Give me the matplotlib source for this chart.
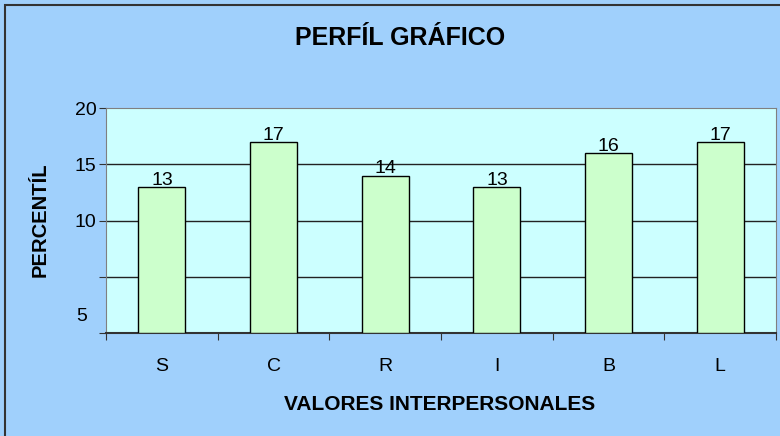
import matplotlib.pyplot as plt
from matplotlib.patches import Rectangle

plt.rcParams['font.family'] = ['Liberation Sans', 'DejaVu Sans']

categorias = ['S', 'C', 'R', 'I', 'B', 'L']
percentil = [13, 17, 14, 13, 16, 17]
yticks = [0, 5, 10, 15, 20]
ytick_labels = ['', '', '10', '15', '20']

fig = plt.figure(figsize=(7.8, 4.36), dpi=100)
fig.patch.set_facecolor('#a0d0fc')
# marco de la figura (arriba e izquierda)
fig.patches.append(Rectangle((0.007, -0.05), 1.1, 1.039, transform=fig.transFigure,
                             fill=False, edgecolor='#333333', linewidth=1.5, zorder=10))

ax = fig.add_axes([0.136, 0.236, 0.859, 0.516])
ax.set_facecolor('#ccffff')

x = range(len(categorias))
ax.bar(x, percentil, width=0.42, color='#ccffcc', edgecolor='black', linewidth=1, zorder=3)
for i, v in enumerate(percentil):
    ax.text(i, v - 0.15, str(v), ha='center', va='bottom', fontsize=14, zorder=4)

ax.set_xlim(-0.5, 5.5)
ax.set_ylim(0, 20)
ax.set_yticks(yticks)
ax.set_yticklabels(ytick_labels, fontsize=14)
# etiqueta "5" desplazada como en el original
ax.text(-0.67, 1.5, '5', ha='right', va='center', fontsize=14)
for yv in [5, 10, 15]:
    ax.axhline(yv, color='#222222', linewidth=1, zorder=1)

ax.set_xticks([i - 0.5 for i in range(len(categorias) + 1)])
ax.set_xticklabels([])
ax.set_xticks(list(x), minor=True)
ax.set_xticklabels(categorias, minor=True, fontsize=14)
ax.tick_params(axis='x', which='minor', length=0, pad=18)
ax.tick_params(axis='x', which='major', direction='out', length=5, color='#333333')
ax.tick_params(axis='y', direction='out', length=5, color='#333333', pad=2)

for s in ['top', 'right', 'left']:
    ax.spines[s].set_color('#808080')
ax.spines['bottom'].set_color('#333333')
ax.spines['bottom'].set_linewidth(1.5)

fig.text(0.513, 0.913, 'PERFÍL GRÁFICO', ha='center', va='center', fontsize=18, fontweight='bold')
fig.text(0.563, 0.073, 'VALORES INTERPERSONALES', ha='center', va='center', fontsize=15, fontweight='bold')
fig.text(0.051, 0.495, 'PERCENTÍL', ha='center', va='center', rotation=90, fontsize=14.5, fontweight='bold')

fig.savefig('out.png', dpi=100, facecolor=fig.get_facecolor())
